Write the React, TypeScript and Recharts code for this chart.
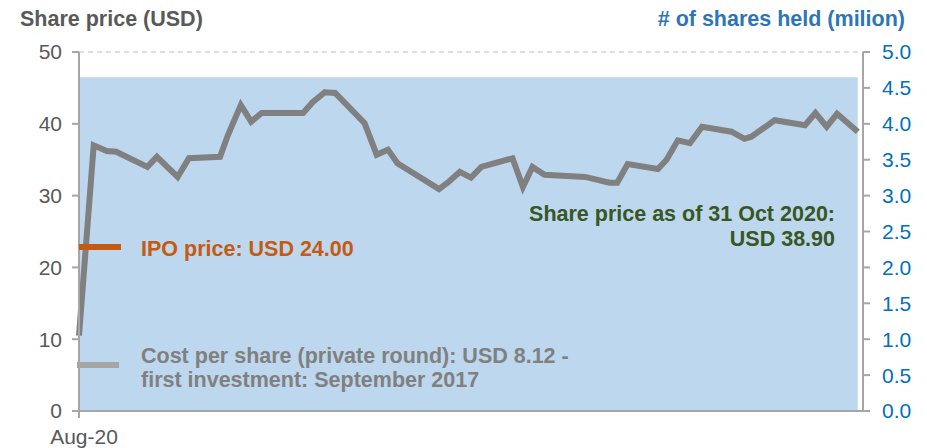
import {
  ComposedChart,
  Area,
  Line,
  XAxis,
  YAxis,
  ReferenceLine,
} from "recharts";

// trading position (days since start of Aug-20)
const dayIndex = [
  0, 1.7, 3.2, 4.3, 7.9, 9.0, 11.4, 12.7, 16.3, 17.2, 18.7, 19.9, 21.1, 25.9,
  27.0, 28.4, 29.6, 33.0, 34.4, 35.7, 36.8, 41.6, 42.6, 44.0, 45.3, 46.5, 50.1,
  51.3, 52.4, 53.8, 58.5, 61.3, 62.2, 63.4, 66.9, 67.9, 69.2, 70.6, 72.0, 75.4,
  76.9, 77.7, 80.4, 83.9, 85.1, 86.4, 87.6, 90,
];

const sharePrice = [
  10.5, 37.0, 36.2, 36.1, 34.0, 35.4, 32.6, 35.2, 35.4, 38.4, 42.6, 40.3, 41.5,
  41.5, 43.0, 44.4, 44.3, 40.1, 35.7, 36.4, 34.5, 30.9, 31.8, 33.3, 32.5, 34.0,
  35.2, 31.2, 34.0, 32.9, 32.6, 31.8, 31.8, 34.4, 33.7, 35.0, 37.7, 37.3, 39.6,
  38.9, 37.9, 38.2, 40.5, 39.8, 41.5, 39.6, 41.4, 38.9,
];

// shares held stays flat over the whole period
const sharesHeldMillion = 4.65;

const xTickLabels = ["Aug-20"];
const priceTicks = [0, 10, 20, 30, 40, 50];
const sharesTicks = [0, 0.5, 1, 1.5, 2, 2.5, 3, 3.5, 4, 4.5, 5];

const data = dayIndex.map((day, i) => ({
  day,
  price: sharePrice[i],
  shares: sharesHeldMillion,
}));

const FONT = "'Liberation Sans', Arial, sans-serif";
const AXIS_GREY = "#A6A6A6";
const TICK_SIZE = 21;

const textBase = {
  position: "absolute" as const,
  fontFamily: FONT,
  fontSize: 21.5,
  lineHeight: "24px",
  fontWeight: 700,
  whiteSpace: "nowrap" as const,
};

export default function App() {
  return (
    <div
      style={{
        position: "absolute",
        left: 0,
        top: 0,
        width: 927,
        height: 448,
        background: "#fff",
      }}
    >
      <ComposedChart
        width={927}
        height={448}
        data={data}
        margin={{ top: 52, right: 0, left: 0, bottom: 0 }}
      >
        <XAxis
          dataKey="day"
          type="number"
          domain={[0, 90.6]}
          ticks={[0]}
          tickFormatter={(_, i) => xTickLabels[i] ?? ""}
          height={37}
          tickSize={7}
          tickMargin={11}
          stroke={AXIS_GREY}
          strokeWidth={2}
          tick={{ fill: "#595959", fontSize: TICK_SIZE, fontFamily: FONT, dx: 5 }}
        />

        <YAxis
          yAxisId="left"
          domain={[0, 50]}
          ticks={priceTicks}
          width={79}
          tickSize={7}
          tickMargin={10}
          stroke={AXIS_GREY}
          strokeWidth={2}
          tick={{ fill: "#595959", fontSize: TICK_SIZE, fontFamily: FONT }}
        />

        <YAxis
          yAxisId="right"
          orientation="right"
          domain={[0, 5]}
          ticks={sharesTicks}
          width={64}
          tickSize={7}
          tickMargin={12}
          stroke={AXIS_GREY}
          strokeWidth={2}
          tickFormatter={(v) => Number(v).toFixed(1)}
          tick={{ fill: "#0070C0", fontSize: TICK_SIZE, fontFamily: FONT }}
        />

        <ReferenceLine
          yAxisId="left"
          y={50}
          stroke="#BFBFBF"
          strokeDasharray="5 4"
        />

        <Area
          yAxisId="right"
          dataKey="shares"
          type="linear"
          fill="#BDD7EE"
          fillOpacity={1}
          stroke="none"
          isAnimationActive={false}
        />

        <Line
          yAxisId="left"
          dataKey="price"
          type="linear"
          stroke="#808080"
          strokeWidth={6}
          dot={false}
          isAnimationActive={false}
        />
      </ComposedChart>

      <div style={{ ...textBase, left: 20, top: 7, color: "#595959" }}>
        Share price (USD)
      </div>

      <div
        style={{
          ...textBase,
          right: 927 - 905,
          top: 7,
          color: "#2E75B6",
        }}
      >
        # of shares held (milion)
      </div>

      {/* IPO price marker */}
      <div
        style={{
          position: "absolute",
          left: 79,
          top: 244,
          width: 42,
          height: 6,
          background: "#C55A11",
        }}
      />
      <div style={{ ...textBase, left: 141, top: 237, color: "#C55A11" }}>
        IPO price: USD 24.00
      </div>

      {/* cost per share marker */}
      <div
        style={{
          position: "absolute",
          left: 77,
          top: 362,
          width: 42,
          height: 6,
          background: "#A6A6A6",
        }}
      />
      <div style={{ ...textBase, left: 141, top: 344, color: "#808080" }}>
        Cost per share (private round): USD 8.12 -
        <br />
        first investment: September 2017
      </div>

      <div
        style={{
          ...textBase,
          right: 927 - 835,
          top: 202,
          textAlign: "right",
          color: "#375623",
          lineHeight: "25px",
        }}
      >
        Share price as of 31 Oct 2020:
        <br />
        USD 38.90
      </div>
    </div>
  );
}
